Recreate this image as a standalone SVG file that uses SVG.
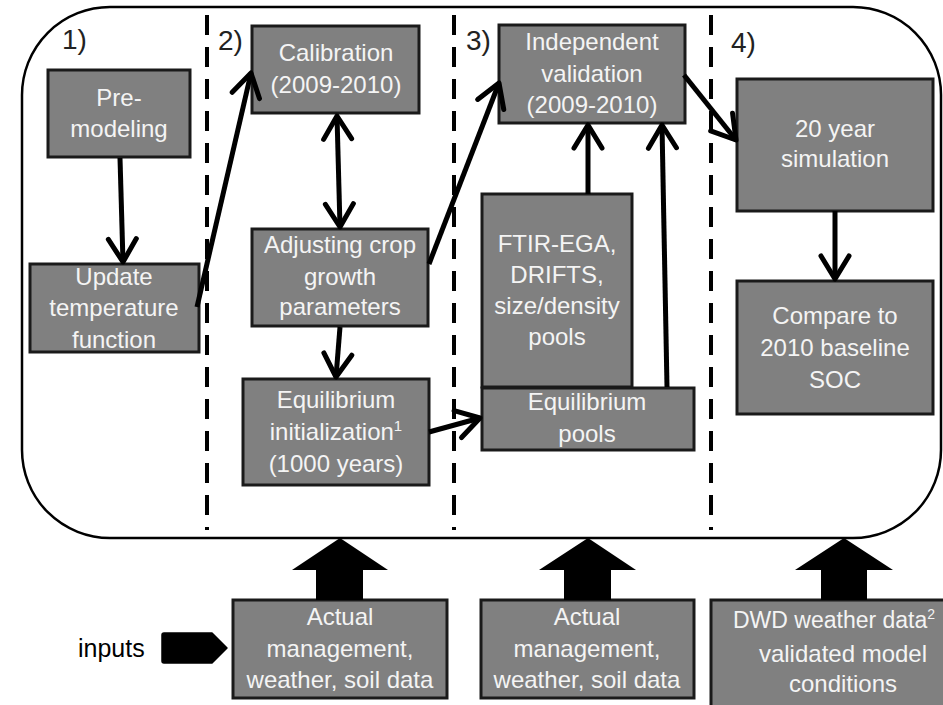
<svg xmlns="http://www.w3.org/2000/svg" width="943" height="705" viewBox="0 0 943 705">
<defs>
<style>
.box{fill:#808080;stroke:#1a1a1a;stroke-width:3}
.t{font-family:"Liberation Sans",Arial,sans-serif;font-size:24px;fill:#f4f4f4;text-anchor:middle}
.lbl{font-family:"Liberation Sans",Arial,sans-serif;font-size:28px;fill:#222}
.con{stroke:#000;stroke-width:5;fill:none;marker-end:url(#ah)}
.dash{stroke:#000;stroke-width:4;stroke-dasharray:20 12}
</style>
<marker id="ah" viewBox="0 0 30 30" markerWidth="30" markerHeight="30" refX="27" refY="15" orient="auto-start-reverse" markerUnits="userSpaceOnUse" overflow="visible">
<path d="M4,1 L27,15 L4,29" fill="none" stroke="#000" stroke-width="5" stroke-linecap="round" stroke-linejoin="round"/>
</marker>
</defs>
<rect width="943" height="705" fill="#fff"/>
<g id="frame">
<rect x="22" y="7" width="919" height="531" rx="88" ry="88" fill="none" stroke="#000" stroke-width="2.5"/>
<line class="dash" x1="207" y1="15" x2="207" y2="530"/>
<line class="dash" x1="454" y1="15" x2="454" y2="530"/>
<line class="dash" x1="711" y1="15" x2="711" y2="530"/>
<text class="lbl" x="62" y="49">1)</text>
<text class="lbl" x="218" y="50">2)</text>
<text class="lbl" x="466" y="50">3)</text>
<text class="lbl" x="731" y="52">4)</text>
</g>
<g id="premod"><rect class="box" x="48" y="70" width="142" height="87"/><text class="t" x="119" y="106">Pre-</text><text class="t" x="119" y="137">modeling</text></g>
<g id="update"><rect class="box" x="30" y="264" width="169" height="88"/><text class="t" x="114" y="285">Update</text><text class="t" x="114" y="316">temperature</text><text class="t" x="114" y="348">function</text></g>
<g id="calib"><rect class="box" x="252" y="26" width="167" height="87"/><text class="t" x="336" y="61">Calibration</text><text class="t" x="336" y="93">(2009-2010)</text></g>
<g id="adjust"><rect class="box" x="252" y="229" width="176" height="97"/><text class="t" x="340" y="253">Adjusting crop</text><text class="t" x="340" y="285">growth</text><text class="t" x="340" y="315">parameters</text></g>
<g id="eqinit"><rect class="box" x="243" y="379" width="186" height="106"/><text class="t" x="336" y="408">Equilibrium</text><text class="t" x="336" y="440">initialization<tspan font-size="15" dy="-9">1</tspan></text><text class="t" x="336" y="472">(1000 years)</text></g>
<g id="indval"><rect class="box" x="499" y="25" width="186" height="98"/><text class="t" x="592" y="50">Independent</text><text class="t" x="592" y="82">validation</text><text class="t" x="592" y="113">(2009-2010)</text></g>
<g id="ftir"><rect class="box" x="482" y="194" width="150" height="193"/><text class="t" x="557" y="252">FTIR-EGA,</text><text class="t" x="557" y="283">DRIFTS,</text><text class="t" x="557" y="314">size/density</text><text class="t" x="557" y="345">pools</text></g>
<g id="eqpools"><rect class="box" x="482" y="388" width="212" height="62"/><text class="t" x="587" y="410">Equilibrium</text><text class="t" x="587" y="442">pools</text></g>
<g id="sim20"><rect class="box" x="737" y="79" width="196" height="132"/><text class="t" x="835" y="137">20 year</text><text class="t" x="835" y="167">simulation</text></g>
<g id="compare"><rect class="box" x="737" y="281" width="196" height="133"/><text class="t" x="835" y="324">Compare to</text><text class="t" x="835" y="356">2010 baseline</text><text class="t" x="835" y="388">SOC</text></g>
<g id="inputs">
<text x="78" y="657" style="font-family:'Liberation Sans',Arial,sans-serif;font-size:25px;fill:#000">inputs</text>
<path d="M164,633 L212,633 L227,648 L212,663 L164,663 Q162,663 162,661 L162,635 Q162,633 164,633 Z" fill="#000" stroke="#000" stroke-width="1.5" stroke-linejoin="round"/>
</g>
<g id="actual1"><rect class="box" x="233" y="600" width="214" height="98"/><text class="t" x="340" y="625">Actual</text><text class="t" x="340" y="657">management,</text><text class="t" x="340" y="688">weather, soil data</text></g>
<g id="actual2"><rect class="box" x="481" y="600" width="213" height="98"/><text class="t" x="587" y="625">Actual</text><text class="t" x="587" y="657">management,</text><text class="t" x="587" y="688">weather, soil data</text></g>
<g id="dwd"><rect class="box" x="711" y="600" width="240" height="110"/><text class="t" x="733" y="628" style="text-anchor:start;font-size:23px">DWD weather data<tspan font-size="14" dy="-9">2</tspan></text><text class="t" x="843" y="662">validated model</text><text class="t" x="843" y="692">conditions</text></g>
<g id="bigarrows" fill="#000">
<polygon points="316,600 316,570 292,570 340,538 388,570 363,570 363,600"/>
<polygon points="564,600 564,570 539,570 588,538 636,570 611,570 611,600"/>
<polygon points="821,600 821,570 795,570 844,538 893,570 867,570 867,600"/>
</g>
<g id="connectors">
<line class="con" x1="120" y1="158" x2="123" y2="262"/>
<line class="con" x1="197" y1="307" x2="251" y2="73"/>
<line class="con" x1="337" y1="116" x2="340" y2="227" style="marker-start:url(#ah)"/>
<line class="con" x1="340" y1="327" x2="336" y2="377"/>
<line class="con" x1="429" y1="264" x2="499" y2="83"/>
<line class="con" x1="429" y1="432" x2="480" y2="418"/>
<line class="con" x1="588" y1="194" x2="588" y2="125"/>
<line class="con" x1="667" y1="387" x2="662" y2="125"/>
<line class="con" x1="684" y1="75" x2="736" y2="140"/>
<line class="con" x1="835" y1="211" x2="835" y2="279"/>
</g>
</svg>
